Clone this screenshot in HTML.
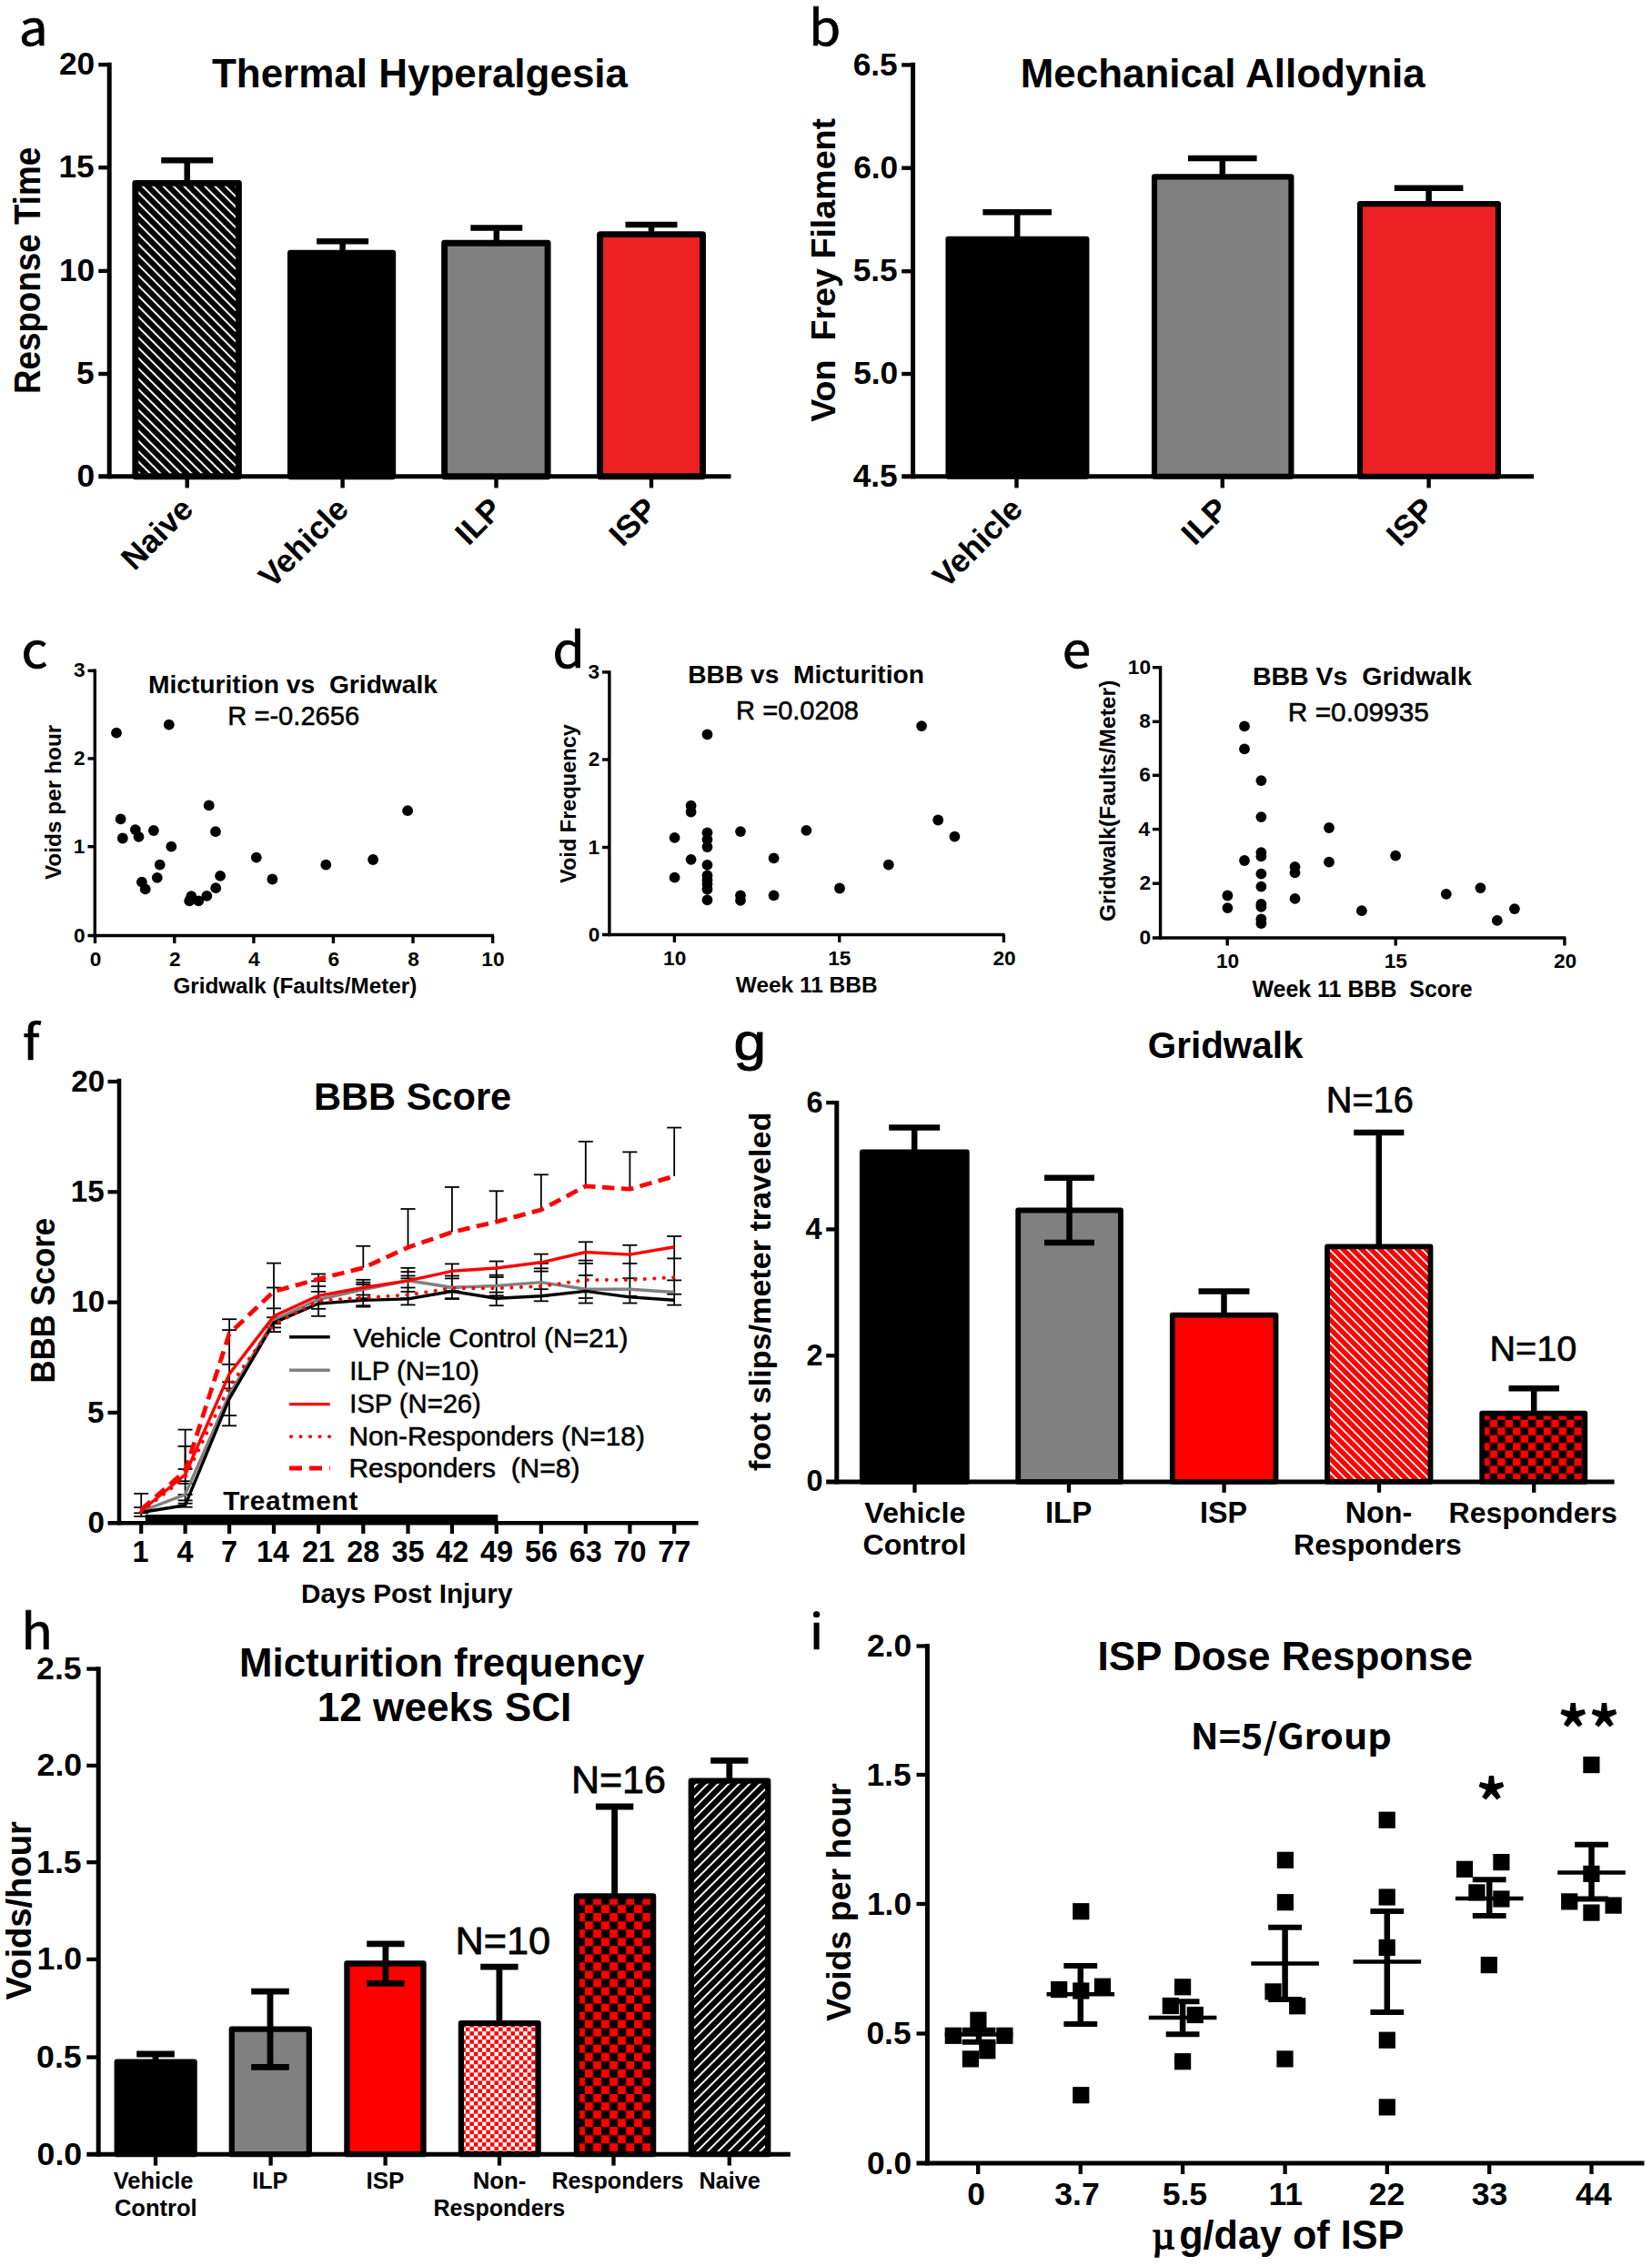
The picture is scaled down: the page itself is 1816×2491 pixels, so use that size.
<!DOCTYPE html>
<html lang="en"><head><meta charset="utf-8"><title>Figure</title>
<style>html,body{margin:0;padding:0;background:#fff}svg{display:block}text{white-space:pre;font-family:"Liberation Sans",Arial,Helvetica,sans-serif;font-weight:bold;fill:#000}line{stroke:#000}</style>
</head><body>
<svg width="1816" height="2491" viewBox="0 0 1816 2491">
<defs>
<pattern id="hA" width="8.05" height="8.05" patternUnits="userSpaceOnUse" patternTransform="rotate(45)"><rect width="8.05" height="8.05" fill="#000"/><rect y="0.73" width="8.05" height="2.0" fill="#fff"/></pattern>
<pattern id="hH" width="8.16" height="8.16" patternUnits="userSpaceOnUse" patternTransform="rotate(-45)"><rect width="8.16" height="8.16" fill="#000"/><rect y="1.79" width="8.16" height="1.95" fill="#fff"/></pattern>
<pattern id="hG" width="7.2" height="7.2" patternUnits="userSpaceOnUse" patternTransform="rotate(45)"><rect width="7.2" height="7.2" fill="#f00"/><rect y="1.8" width="7.2" height="1.75" fill="#fff"/></pattern>
<pattern id="ckG" x="1629.3" y="1543.9" width="16.86" height="16.86" patternUnits="userSpaceOnUse"><rect width="16.86" height="16.86" fill="#f00"/><rect width="8.43" height="8.43" fill="#000"/><rect x="8.43" y="8.43" width="8.43" height="8.43" fill="#000"/></pattern>
<pattern id="ckH" x="624.8" y="2085" width="18.08" height="18.08" patternUnits="userSpaceOnUse"><rect width="18.08" height="18.08" fill="#f00"/><rect width="9.04" height="9.04" fill="#000"/><rect x="9.04" y="9.04" width="9.04" height="9.04" fill="#000"/></pattern>
<pattern id="ckS" x="502.8" y="2219.6" width="9.04" height="9.04" patternUnits="userSpaceOnUse"><rect width="9.04" height="9.04" fill="#fff"/><rect width="4.52" height="4.52" fill="#f00"/><rect x="4.52" y="4.52" width="4.52" height="4.52" fill="#f00"/></pattern>
</defs>
<text x="20.8" y="50.3" font-size="53.5" textLength="31.9" lengthAdjust="spacingAndGlyphs" style="font-weight:400;font-family:'Noto Sans CJK SC','Noto Sans CJK JP','DejaVu Sans',sans-serif;" stroke="#000" stroke-width="0.7" xml:space="preserve">a</text>
<text x="889.3" y="50.3" font-size="53.5" textLength="35.0" lengthAdjust="spacingAndGlyphs" style="font-weight:400;font-family:'Noto Sans CJK SC','Noto Sans CJK JP','DejaVu Sans',sans-serif;" stroke="#000" stroke-width="0.7" xml:space="preserve">b</text>
<text x="23.6" y="734.2" font-size="53.5" textLength="28.9" lengthAdjust="spacingAndGlyphs" style="font-weight:400;font-family:'Noto Sans CJK SC','Noto Sans CJK JP','DejaVu Sans',sans-serif;" stroke="#000" stroke-width="0.7" xml:space="preserve">c</text>
<text x="607.5" y="734.2" font-size="53.5" textLength="35.2" lengthAdjust="spacingAndGlyphs" style="font-weight:400;font-family:'Noto Sans CJK SC','Noto Sans CJK JP','DejaVu Sans',sans-serif;" stroke="#000" stroke-width="0.7" xml:space="preserve">d</text>
<text x="1167.8" y="734.2" font-size="53.5" textLength="31.4" lengthAdjust="spacingAndGlyphs" style="font-weight:400;font-family:'Noto Sans CJK SC','Noto Sans CJK JP','DejaVu Sans',sans-serif;" stroke="#000" stroke-width="0.7" xml:space="preserve">e</text>
<text x="24.9" y="1165.4" font-size="53.5" textLength="18.4" lengthAdjust="spacingAndGlyphs" style="font-weight:400;font-family:'Noto Sans CJK SC','Noto Sans CJK JP','DejaVu Sans',sans-serif;" stroke="#000" stroke-width="0.7" xml:space="preserve">f</text>
<text x="806.4" y="1165.0" font-size="58" textLength="35.6" lengthAdjust="spacingAndGlyphs" style="font-weight:normal;" stroke="#000" stroke-width="1.04" xml:space="preserve">g</text>
<text x="23.5" y="1813.0" font-size="53.5" textLength="34.4" lengthAdjust="spacingAndGlyphs" style="font-weight:400;font-family:'Noto Sans CJK SC','Noto Sans CJK JP','DejaVu Sans',sans-serif;" stroke="#000" stroke-width="0.7" xml:space="preserve">h</text>
<text x="889.7" y="1812.5" font-size="53.5" textLength="15.6" lengthAdjust="spacingAndGlyphs" style="font-weight:400;font-family:'Noto Sans CJK SC','Noto Sans CJK JP','DejaVu Sans',sans-serif;" stroke="#000" stroke-width="0.7" xml:space="preserve">i</text>
<line x1="120.2" y1="68.8" x2="120.2" y2="526.2" stroke-width="5"/>
<line x1="108.3" y1="523.7" x2="803.5" y2="523.7" stroke-width="5"/>
<line x1="108.3" y1="71.1" x2="120.2" y2="71.1" stroke-width="4.4"/>
<line x1="108.3" y1="184.2" x2="120.2" y2="184.2" stroke-width="4.4"/>
<line x1="108.3" y1="297.9" x2="120.2" y2="297.9" stroke-width="4.4"/>
<line x1="108.3" y1="411.0" x2="120.2" y2="411.0" stroke-width="4.4"/>
<text x="64.9" y="82.3" font-size="35.3" xml:space="preserve">20</text>
<text x="64.4" y="195.4" font-size="35.3" xml:space="preserve">15</text>
<text x="64.9" y="309.1" font-size="35.3" xml:space="preserve">10</text>
<text x="84.0" y="422.2" font-size="35.3" xml:space="preserve">5</text>
<text x="84.5" y="534.9" font-size="35.3" xml:space="preserve">0</text>
<rect x="148.8" y="201.4" width="113.6" height="322.3" fill="url(#hA)" stroke="#000" stroke-width="6.9" stroke-linejoin="round"/>
<rect x="319.4" y="278.2" width="112.3" height="245.5" fill="#000" stroke="#000" stroke-width="6.9" stroke-linejoin="round"/>
<rect x="488.6" y="267.2" width="113.5" height="256.5" fill="#808080" stroke="#000" stroke-width="6.9" stroke-linejoin="round"/>
<rect x="659.6" y="257.6" width="112.9" height="266.1" fill="#ed2024" stroke="#000" stroke-width="6.9" stroke-linejoin="round"/>
<line x1="205.7" y1="176.2" x2="205.7" y2="200.0" stroke-width="6.5"/>
<line x1="177.2" y1="176.2" x2="234.2" y2="176.2" stroke-width="6.5"/>
<line x1="376.6" y1="265.2" x2="376.6" y2="277.0" stroke-width="6.5"/>
<line x1="348.1" y1="265.2" x2="405.1" y2="265.2" stroke-width="6.5"/>
<line x1="545.8" y1="250.5" x2="545.8" y2="266.0" stroke-width="6.5"/>
<line x1="517.3" y1="250.5" x2="574.3" y2="250.5" stroke-width="6.5"/>
<line x1="716.0" y1="247.0" x2="716.0" y2="256.0" stroke-width="6.5"/>
<line x1="687.5" y1="247.0" x2="744.5" y2="247.0" stroke-width="6.5"/>
<line x1="205.7" y1="523.7" x2="205.7" y2="536.4" stroke-width="4.4"/>
<text x="147.7" y="628.4" font-size="35.3" transform="rotate(-45 147.7 628.4)" xml:space="preserve">Naive</text>
<line x1="376.6" y1="523.7" x2="376.6" y2="536.4" stroke-width="4.4"/>
<text x="299.1" y="647.9" font-size="35.3" transform="rotate(-45 299.1 647.9)" xml:space="preserve">Vehicle</text>
<line x1="545.5" y1="523.7" x2="545.5" y2="536.4" stroke-width="4.4"/>
<text x="515.0" y="600.9" font-size="35.3" transform="rotate(-45 515.0 600.9)" xml:space="preserve">ILP</text>
<line x1="716.0" y1="523.7" x2="716.0" y2="536.4" stroke-width="4.4"/>
<text x="684.2" y="602.2" font-size="35.3" transform="rotate(-45 684.2 602.2)" xml:space="preserve">ISP</text>
<text x="232.9" y="95.6" font-size="43.99" xml:space="preserve">Thermal Hyperalgesia</text>
<text x="44.1" y="433.1" font-size="40" transform="rotate(-90 44.1 433.1)" textLength="271.3" lengthAdjust="spacingAndGlyphs" xml:space="preserve">Response Time</text>
<line x1="1003.6" y1="68.8" x2="1003.6" y2="526.2" stroke-width="5"/>
<line x1="991.2" y1="523.7" x2="1686.0" y2="523.7" stroke-width="5"/>
<line x1="991.2" y1="71.4" x2="1003.6" y2="71.4" stroke-width="4.4"/>
<line x1="991.2" y1="184.7" x2="1003.6" y2="184.7" stroke-width="4.4"/>
<line x1="991.2" y1="298.2" x2="1003.6" y2="298.2" stroke-width="4.4"/>
<line x1="991.2" y1="411.0" x2="1003.6" y2="411.0" stroke-width="4.4"/>
<text x="937.7" y="82.6" font-size="35.3" xml:space="preserve">6.5</text>
<text x="938.2" y="195.9" font-size="35.3" xml:space="preserve">6.0</text>
<text x="937.7" y="309.4" font-size="35.3" xml:space="preserve">5.5</text>
<text x="938.2" y="422.2" font-size="35.3" xml:space="preserve">5.0</text>
<text x="937.7" y="534.9" font-size="35.3" xml:space="preserve">4.5</text>
<rect x="1042.5" y="262.8" width="151.9" height="261.0" fill="#000" stroke="#000" stroke-width="6.1" stroke-linejoin="round"/>
<rect x="1269.0" y="194.4" width="150.4" height="329.4" fill="#808080" stroke="#000" stroke-width="6.1" stroke-linejoin="round"/>
<rect x="1495.0" y="224.1" width="151.9" height="299.7" fill="#ed2024" stroke="#000" stroke-width="6.1" stroke-linejoin="round"/>
<line x1="1118.2" y1="233.2" x2="1118.2" y2="262.0" stroke-width="6.5"/>
<line x1="1080.4" y1="233.2" x2="1156.0" y2="233.2" stroke-width="6.5"/>
<line x1="1343.8" y1="174.0" x2="1343.8" y2="194.0" stroke-width="6.5"/>
<line x1="1306.0" y1="174.0" x2="1381.6" y2="174.0" stroke-width="6.5"/>
<line x1="1570.6" y1="206.8" x2="1570.6" y2="225.0" stroke-width="6.5"/>
<line x1="1532.8" y1="206.8" x2="1608.4" y2="206.8" stroke-width="6.5"/>
<line x1="1117.5" y1="523.7" x2="1117.5" y2="536.4" stroke-width="4.4"/>
<text x="1040.0" y="647.9" font-size="35.3" transform="rotate(-45 1040.0 647.9)" xml:space="preserve">Vehicle</text>
<line x1="1343.8" y1="523.7" x2="1343.8" y2="536.4" stroke-width="4.4"/>
<text x="1313.3" y="600.9" font-size="35.3" transform="rotate(-45 1313.3 600.9)" xml:space="preserve">ILP</text>
<line x1="1570.6" y1="523.7" x2="1570.6" y2="536.4" stroke-width="4.4"/>
<text x="1538.8" y="602.2" font-size="35.3" transform="rotate(-45 1538.8 602.2)" xml:space="preserve">ISP</text>
<text x="1121.8" y="96.0" font-size="43.92" xml:space="preserve">Mechanical Allodynia</text>
<text x="918.0" y="463.7" font-size="37.64" transform="rotate(-90 918.0 463.7)" xml:space="preserve">Von  Frey Filament</text>
<line x1="104.3" y1="735.6" x2="104.3" y2="1030.2" stroke-width="3.4"/>
<line x1="96.5" y1="1028.5" x2="543.0" y2="1028.5" stroke-width="3.4"/>
<line x1="96.5" y1="737.3" x2="104.3" y2="737.3" stroke-width="3.4"/>
<line x1="96.5" y1="833.9" x2="104.3" y2="833.9" stroke-width="3.4"/>
<line x1="96.5" y1="930.7" x2="104.3" y2="930.7" stroke-width="3.4"/>
<text x="81.0" y="744.4" font-size="22.7" xml:space="preserve">3</text>
<text x="81.1" y="841.0" font-size="22.7" xml:space="preserve">2</text>
<text x="80.8" y="937.8" font-size="22.7" xml:space="preserve">1</text>
<text x="81.1" y="1035.6" font-size="22.7" xml:space="preserve">0</text>
<line x1="104.5" y1="1028.5" x2="104.5" y2="1037.0" stroke-width="3.4"/>
<text x="98.7" y="1061.6" font-size="22.7" xml:space="preserve">0</text>
<line x1="191.8" y1="1028.5" x2="191.8" y2="1037.0" stroke-width="3.4"/>
<text x="186.1" y="1061.6" font-size="22.7" xml:space="preserve">2</text>
<line x1="278.9" y1="1028.5" x2="278.9" y2="1037.0" stroke-width="3.4"/>
<text x="273.0" y="1061.6" font-size="22.7" xml:space="preserve">4</text>
<line x1="366.4" y1="1028.5" x2="366.4" y2="1037.0" stroke-width="3.4"/>
<text x="360.6" y="1061.6" font-size="22.7" xml:space="preserve">6</text>
<line x1="454.0" y1="1028.5" x2="454.0" y2="1037.0" stroke-width="3.4"/>
<text x="448.2" y="1061.6" font-size="22.7" xml:space="preserve">8</text>
<line x1="541.6" y1="1028.5" x2="541.6" y2="1037.0" stroke-width="3.4"/>
<text x="529.3" y="1061.6" font-size="22.7" xml:space="preserve">10</text>
<circle cx="128.0" cy="805.7" r="5.9"/>
<circle cx="185.8" cy="796.7" r="5.9"/>
<circle cx="132.6" cy="900.4" r="5.9"/>
<circle cx="134.8" cy="921.5" r="5.9"/>
<circle cx="148.8" cy="912.1" r="5.9"/>
<circle cx="152.5" cy="919.8" r="5.9"/>
<circle cx="168.9" cy="913.0" r="5.9"/>
<circle cx="188.3" cy="930.7" r="5.9"/>
<circle cx="229.7" cy="885.4" r="5.9"/>
<circle cx="237.0" cy="914.2" r="5.9"/>
<circle cx="448.1" cy="891.2" r="5.9"/>
<circle cx="175.7" cy="950.6" r="5.9"/>
<circle cx="172.8" cy="964.8" r="5.9"/>
<circle cx="155.9" cy="969.7" r="5.9"/>
<circle cx="159.7" cy="977.4" r="5.9"/>
<circle cx="242.1" cy="962.9" r="5.9"/>
<circle cx="237.2" cy="976.2" r="5.9"/>
<circle cx="227.3" cy="984.9" r="5.9"/>
<circle cx="218.3" cy="990.3" r="5.9"/>
<circle cx="210.3" cy="985.2" r="5.9"/>
<circle cx="208.2" cy="990.3" r="5.9"/>
<circle cx="281.8" cy="942.6" r="5.9"/>
<circle cx="299.4" cy="966.5" r="5.9"/>
<circle cx="358.3" cy="950.6" r="5.9"/>
<circle cx="410.1" cy="945.0" r="5.9"/>
<text x="162.9" y="762.4" font-size="28.21" xml:space="preserve">Micturition vs  Gridwalk</text>
<text x="250.3" y="797.1" font-size="29.12" style="font-weight:normal;" stroke="#000" stroke-width="0.52" xml:space="preserve">R =-0.2656</text>
<text x="190.4" y="1092.0" font-size="24.22" xml:space="preserve">Gridwalk (Faults/Meter)</text>
<text x="66.8" y="967.1" font-size="24.41" transform="rotate(-90 66.8 967.1)" xml:space="preserve">Voids per hour</text>
<line x1="669.9" y1="737.2" x2="669.9" y2="1029.2" stroke-width="3.4"/>
<line x1="662.0" y1="1027.5" x2="1104.5" y2="1027.5" stroke-width="3.4"/>
<line x1="662.0" y1="738.9" x2="669.9" y2="738.9" stroke-width="3.4"/>
<line x1="662.0" y1="835.0" x2="669.9" y2="835.0" stroke-width="3.4"/>
<line x1="662.0" y1="931.5" x2="669.9" y2="931.5" stroke-width="3.4"/>
<text x="646.6" y="746.0" font-size="22.7" xml:space="preserve">3</text>
<text x="646.7" y="842.1" font-size="22.7" xml:space="preserve">2</text>
<text x="646.4" y="938.6" font-size="22.7" xml:space="preserve">1</text>
<text x="646.7" y="1034.6" font-size="22.7" xml:space="preserve">0</text>
<line x1="741.4" y1="1027.5" x2="741.4" y2="1036.0" stroke-width="3.4"/>
<text x="729.1" y="1060.6" font-size="22.7" xml:space="preserve">10</text>
<line x1="922.7" y1="1027.5" x2="922.7" y2="1036.0" stroke-width="3.4"/>
<text x="910.2" y="1060.6" font-size="22.7" xml:space="preserve">15</text>
<line x1="1103.4" y1="1027.5" x2="1103.4" y2="1036.0" stroke-width="3.4"/>
<text x="1091.4" y="1060.6" font-size="22.7" xml:space="preserve">20</text>
<circle cx="777.5" cy="807.3" r="5.9"/>
<circle cx="1013.1" cy="798.1" r="5.9"/>
<circle cx="759.6" cy="885.7" r="5.9"/>
<circle cx="759.6" cy="892.5" r="5.9"/>
<circle cx="741.6" cy="920.8" r="5.9"/>
<circle cx="777.5" cy="915.3" r="5.9"/>
<circle cx="777.5" cy="923.0" r="5.9"/>
<circle cx="777.5" cy="931.0" r="5.9"/>
<circle cx="814.0" cy="914.1" r="5.9"/>
<circle cx="886.4" cy="912.9" r="5.9"/>
<circle cx="1031.2" cy="901.5" r="5.9"/>
<circle cx="1049.4" cy="919.6" r="5.9"/>
<circle cx="759.6" cy="944.8" r="5.9"/>
<circle cx="850.6" cy="943.4" r="5.9"/>
<circle cx="976.8" cy="950.6" r="5.9"/>
<circle cx="777.5" cy="950.9" r="5.9"/>
<circle cx="741.6" cy="964.7" r="5.9"/>
<circle cx="777.5" cy="962.5" r="5.9"/>
<circle cx="777.5" cy="967.3" r="5.9"/>
<circle cx="777.5" cy="971.7" r="5.9"/>
<circle cx="777.5" cy="977.5" r="5.9"/>
<circle cx="777.5" cy="989.4" r="5.9"/>
<circle cx="814.0" cy="984.3" r="5.9"/>
<circle cx="814.0" cy="989.9" r="5.9"/>
<circle cx="850.6" cy="984.3" r="5.9"/>
<circle cx="923.0" cy="976.5" r="5.9"/>
<text x="756.3" y="750.6" font-size="28.15" xml:space="preserve">BBB vs  Micturition</text>
<text x="809.1" y="790.7" font-size="29.07" style="font-weight:normal;" stroke="#000" stroke-width="0.52" xml:space="preserve">R =0.0208</text>
<text x="808.8" y="1091.0" font-size="24.44" xml:space="preserve">Week 11 BBB</text>
<text x="633.0" y="971.0" font-size="23.55" transform="rotate(-90 633.0 971.0)" xml:space="preserve">Void Frequency</text>
<line x1="1275.6" y1="732.0" x2="1275.6" y2="1032.7" stroke-width="3.4"/>
<line x1="1266.9" y1="1031.0" x2="1721.3" y2="1031.0" stroke-width="3.4"/>
<line x1="1266.9" y1="733.7" x2="1275.6" y2="733.7" stroke-width="3.4"/>
<line x1="1266.9" y1="793.3" x2="1275.6" y2="793.3" stroke-width="3.4"/>
<line x1="1266.9" y1="852.3" x2="1275.6" y2="852.3" stroke-width="3.4"/>
<line x1="1266.9" y1="911.6" x2="1275.6" y2="911.6" stroke-width="3.4"/>
<line x1="1266.9" y1="971.2" x2="1275.6" y2="971.2" stroke-width="3.4"/>
<text x="1239.8" y="740.8" font-size="22.7" xml:space="preserve">10</text>
<text x="1252.2" y="800.4" font-size="22.7" xml:space="preserve">8</text>
<text x="1252.3" y="859.4" font-size="22.7" xml:space="preserve">6</text>
<text x="1251.6" y="918.7" font-size="22.7" xml:space="preserve">4</text>
<text x="1252.4" y="978.3" font-size="22.7" xml:space="preserve">2</text>
<text x="1252.4" y="1038.1" font-size="22.7" xml:space="preserve">0</text>
<line x1="1349.2" y1="1031.0" x2="1349.2" y2="1039.5" stroke-width="3.4"/>
<text x="1336.9" y="1064.1" font-size="22.7" xml:space="preserve">10</text>
<line x1="1534.2" y1="1031.0" x2="1534.2" y2="1039.5" stroke-width="3.4"/>
<text x="1521.7" y="1064.1" font-size="22.7" xml:space="preserve">15</text>
<line x1="1719.9" y1="1031.0" x2="1719.9" y2="1039.5" stroke-width="3.4"/>
<text x="1707.9" y="1064.1" font-size="22.7" xml:space="preserve">20</text>
<circle cx="1368.0" cy="798.3" r="5.9"/>
<circle cx="1368.0" cy="823.3" r="5.9"/>
<circle cx="1386.4" cy="858.1" r="5.9"/>
<circle cx="1386.4" cy="898.1" r="5.9"/>
<circle cx="1386.4" cy="937.1" r="5.9"/>
<circle cx="1386.4" cy="941.4" r="5.9"/>
<circle cx="1368.0" cy="946.0" r="5.9"/>
<circle cx="1386.4" cy="960.6" r="5.9"/>
<circle cx="1386.4" cy="974.6" r="5.9"/>
<circle cx="1386.4" cy="994.0" r="5.9"/>
<circle cx="1386.4" cy="996.9" r="5.9"/>
<circle cx="1386.4" cy="1010.4" r="5.9"/>
<circle cx="1386.4" cy="1015.0" r="5.9"/>
<circle cx="1349.4" cy="984.5" r="5.9"/>
<circle cx="1349.4" cy="998.1" r="5.9"/>
<circle cx="1423.5" cy="952.8" r="5.9"/>
<circle cx="1423.5" cy="959.3" r="5.9"/>
<circle cx="1423.5" cy="987.9" r="5.9"/>
<circle cx="1461.0" cy="910.0" r="5.9"/>
<circle cx="1461.0" cy="947.7" r="5.9"/>
<circle cx="1534.1" cy="940.7" r="5.9"/>
<circle cx="1496.9" cy="1001.2" r="5.9"/>
<circle cx="1589.8" cy="982.8" r="5.9"/>
<circle cx="1627.4" cy="976.1" r="5.9"/>
<circle cx="1645.8" cy="1011.9" r="5.9"/>
<circle cx="1664.9" cy="999.1" r="5.9"/>
<text x="1376.9" y="753.2" font-size="28.52" xml:space="preserve">BBB Vs  Gridwalk</text>
<text x="1415.8" y="793.3" font-size="29.84" style="font-weight:normal;" stroke="#000" stroke-width="0.54" xml:space="preserve">R =0.09935</text>
<text x="1376.5" y="1095.8" font-size="24.94" xml:space="preserve">Week 11 BBB  Score</text>
<text x="1225.7" y="1013.1" font-size="24.64" transform="rotate(-90 1225.7 1013.1)" xml:space="preserve">Gridwalk(Faults/Meter)</text>
<line x1="155.2" y1="1641.9" x2="155.2" y2="1659.5" stroke-width="1.8"/>
<line x1="147.2" y1="1641.9" x2="163.2" y2="1641.9" stroke-width="1.8"/>
<line x1="155.2" y1="1657.1" x2="155.2" y2="1667.0" stroke-width="1.8"/>
<line x1="147.2" y1="1657.1" x2="163.2" y2="1657.1" stroke-width="1.8"/>
<line x1="147.2" y1="1663.3" x2="163.2" y2="1663.3" stroke-width="1.8"/>
<line x1="147.2" y1="1667.0" x2="163.2" y2="1667.0" stroke-width="1.8"/>
<line x1="203.6" y1="1571.6" x2="203.6" y2="1617.0" stroke-width="1.8"/>
<line x1="195.6" y1="1571.6" x2="211.6" y2="1571.6" stroke-width="1.8"/>
<line x1="203.6" y1="1589.9" x2="203.6" y2="1656.7" stroke-width="1.8"/>
<line x1="195.6" y1="1589.9" x2="211.6" y2="1589.9" stroke-width="1.8"/>
<line x1="195.6" y1="1615.0" x2="211.6" y2="1615.0" stroke-width="1.8"/>
<line x1="195.6" y1="1628.2" x2="211.6" y2="1628.2" stroke-width="1.8"/>
<line x1="195.6" y1="1630.9" x2="211.6" y2="1630.9" stroke-width="1.8"/>
<line x1="195.6" y1="1643.0" x2="211.6" y2="1643.0" stroke-width="1.8"/>
<line x1="195.6" y1="1649.4" x2="211.6" y2="1649.4" stroke-width="1.8"/>
<line x1="195.6" y1="1652.7" x2="211.6" y2="1652.7" stroke-width="1.8"/>
<line x1="195.6" y1="1656.7" x2="211.6" y2="1656.7" stroke-width="1.8"/>
<line x1="252.1" y1="1450.2" x2="252.1" y2="1466.0" stroke-width="1.8"/>
<line x1="244.1" y1="1450.2" x2="260.1" y2="1450.2" stroke-width="1.8"/>
<line x1="252.1" y1="1462.1" x2="252.1" y2="1567.3" stroke-width="1.8"/>
<line x1="244.1" y1="1462.1" x2="260.1" y2="1462.1" stroke-width="1.8"/>
<line x1="244.1" y1="1499.8" x2="260.1" y2="1499.8" stroke-width="1.8"/>
<line x1="244.1" y1="1519.3" x2="260.1" y2="1519.3" stroke-width="1.8"/>
<line x1="244.1" y1="1526.3" x2="260.1" y2="1526.3" stroke-width="1.8"/>
<line x1="244.1" y1="1556.1" x2="260.1" y2="1556.1" stroke-width="1.8"/>
<line x1="244.1" y1="1567.3" x2="260.1" y2="1567.3" stroke-width="1.8"/>
<line x1="301.0" y1="1388.6" x2="301.0" y2="1419.7" stroke-width="1.8"/>
<line x1="293.0" y1="1388.6" x2="309.0" y2="1388.6" stroke-width="1.8"/>
<line x1="301.0" y1="1415.5" x2="301.0" y2="1464.1" stroke-width="1.8"/>
<line x1="293.0" y1="1415.5" x2="309.0" y2="1415.5" stroke-width="1.8"/>
<line x1="293.0" y1="1438.3" x2="309.0" y2="1438.3" stroke-width="1.8"/>
<line x1="293.0" y1="1448.2" x2="309.0" y2="1448.2" stroke-width="1.8"/>
<line x1="293.0" y1="1455.0" x2="309.0" y2="1455.0" stroke-width="1.8"/>
<line x1="293.0" y1="1459.4" x2="309.0" y2="1459.4" stroke-width="1.8"/>
<line x1="293.0" y1="1464.1" x2="309.0" y2="1464.1" stroke-width="1.8"/>
<line x1="350.1" y1="1400.5" x2="350.1" y2="1406.1" stroke-width="1.8"/>
<line x1="342.1" y1="1400.5" x2="358.1" y2="1400.5" stroke-width="1.8"/>
<line x1="350.1" y1="1408.3" x2="350.1" y2="1446.8" stroke-width="1.8"/>
<line x1="342.1" y1="1408.3" x2="358.1" y2="1408.3" stroke-width="1.8"/>
<line x1="342.1" y1="1414.0" x2="358.1" y2="1414.0" stroke-width="1.8"/>
<line x1="342.1" y1="1419.9" x2="358.1" y2="1419.9" stroke-width="1.8"/>
<line x1="342.1" y1="1427.2" x2="358.1" y2="1427.2" stroke-width="1.8"/>
<line x1="342.1" y1="1438.8" x2="358.1" y2="1438.8" stroke-width="1.8"/>
<line x1="342.1" y1="1446.8" x2="358.1" y2="1446.8" stroke-width="1.8"/>
<line x1="399.3" y1="1369.8" x2="399.3" y2="1393.8" stroke-width="1.8"/>
<line x1="391.3" y1="1369.8" x2="407.3" y2="1369.8" stroke-width="1.8"/>
<line x1="399.3" y1="1406.8" x2="399.3" y2="1436.6" stroke-width="1.8"/>
<line x1="391.3" y1="1406.8" x2="407.3" y2="1406.8" stroke-width="1.8"/>
<line x1="391.3" y1="1409.7" x2="407.3" y2="1409.7" stroke-width="1.8"/>
<line x1="391.3" y1="1412.0" x2="407.3" y2="1412.0" stroke-width="1.8"/>
<line x1="391.3" y1="1423.5" x2="407.3" y2="1423.5" stroke-width="1.8"/>
<line x1="391.3" y1="1427.2" x2="407.3" y2="1427.2" stroke-width="1.8"/>
<line x1="391.3" y1="1435.2" x2="407.3" y2="1435.2" stroke-width="1.8"/>
<line x1="391.3" y1="1436.6" x2="407.3" y2="1436.6" stroke-width="1.8"/>
<line x1="448.5" y1="1329.0" x2="448.5" y2="1371.3" stroke-width="1.8"/>
<line x1="440.5" y1="1329.0" x2="456.5" y2="1329.0" stroke-width="1.8"/>
<line x1="448.5" y1="1393.8" x2="448.5" y2="1434.4" stroke-width="1.8"/>
<line x1="440.5" y1="1393.8" x2="456.5" y2="1393.8" stroke-width="1.8"/>
<line x1="440.5" y1="1398.1" x2="456.5" y2="1398.1" stroke-width="1.8"/>
<line x1="440.5" y1="1402.5" x2="456.5" y2="1402.5" stroke-width="1.8"/>
<line x1="440.5" y1="1405.4" x2="456.5" y2="1405.4" stroke-width="1.8"/>
<line x1="440.5" y1="1415.5" x2="456.5" y2="1415.5" stroke-width="1.8"/>
<line x1="440.5" y1="1419.9" x2="456.5" y2="1419.9" stroke-width="1.8"/>
<line x1="440.5" y1="1427.2" x2="456.5" y2="1427.2" stroke-width="1.8"/>
<line x1="440.5" y1="1434.4" x2="456.5" y2="1434.4" stroke-width="1.8"/>
<line x1="496.9" y1="1305.0" x2="496.9" y2="1354.5" stroke-width="1.8"/>
<line x1="488.9" y1="1305.0" x2="504.9" y2="1305.0" stroke-width="1.8"/>
<line x1="496.9" y1="1389.4" x2="496.9" y2="1428.0" stroke-width="1.8"/>
<line x1="488.9" y1="1389.4" x2="504.9" y2="1389.4" stroke-width="1.8"/>
<line x1="488.9" y1="1402.5" x2="504.9" y2="1402.5" stroke-width="1.8"/>
<line x1="488.9" y1="1405.4" x2="504.9" y2="1405.4" stroke-width="1.8"/>
<line x1="488.9" y1="1415.5" x2="504.9" y2="1415.5" stroke-width="1.8"/>
<line x1="488.9" y1="1419.2" x2="504.9" y2="1419.2" stroke-width="1.8"/>
<line x1="488.9" y1="1427.2" x2="504.9" y2="1427.2" stroke-width="1.8"/>
<line x1="488.9" y1="1428.0" x2="504.9" y2="1428.0" stroke-width="1.8"/>
<line x1="545.7" y1="1309.3" x2="545.7" y2="1343.1" stroke-width="1.8"/>
<line x1="537.7" y1="1309.3" x2="553.7" y2="1309.3" stroke-width="1.8"/>
<line x1="545.7" y1="1386.5" x2="545.7" y2="1435.2" stroke-width="1.8"/>
<line x1="537.7" y1="1386.5" x2="553.7" y2="1386.5" stroke-width="1.8"/>
<line x1="537.7" y1="1401.7" x2="553.7" y2="1401.7" stroke-width="1.8"/>
<line x1="537.7" y1="1404.0" x2="553.7" y2="1404.0" stroke-width="1.8"/>
<line x1="537.7" y1="1420.6" x2="553.7" y2="1420.6" stroke-width="1.8"/>
<line x1="537.7" y1="1424.3" x2="553.7" y2="1424.3" stroke-width="1.8"/>
<line x1="537.7" y1="1427.2" x2="553.7" y2="1427.2" stroke-width="1.8"/>
<line x1="537.7" y1="1435.2" x2="553.7" y2="1435.2" stroke-width="1.8"/>
<line x1="594.8" y1="1291.3" x2="594.8" y2="1330.0" stroke-width="1.8"/>
<line x1="586.8" y1="1291.3" x2="602.8" y2="1291.3" stroke-width="1.8"/>
<line x1="594.8" y1="1378.6" x2="594.8" y2="1430.3" stroke-width="1.8"/>
<line x1="586.8" y1="1378.6" x2="602.8" y2="1378.6" stroke-width="1.8"/>
<line x1="586.8" y1="1388.9" x2="602.8" y2="1388.9" stroke-width="1.8"/>
<line x1="586.8" y1="1394.3" x2="602.8" y2="1394.3" stroke-width="1.8"/>
<line x1="586.8" y1="1397.6" x2="602.8" y2="1397.6" stroke-width="1.8"/>
<line x1="586.8" y1="1417.2" x2="602.8" y2="1417.2" stroke-width="1.8"/>
<line x1="586.8" y1="1424.8" x2="602.8" y2="1424.8" stroke-width="1.8"/>
<line x1="586.8" y1="1430.3" x2="602.8" y2="1430.3" stroke-width="1.8"/>
<line x1="643.8" y1="1254.9" x2="643.8" y2="1303.9" stroke-width="1.8"/>
<line x1="635.8" y1="1254.9" x2="651.8" y2="1254.9" stroke-width="1.8"/>
<line x1="643.8" y1="1365.3" x2="643.8" y2="1432.5" stroke-width="1.8"/>
<line x1="635.8" y1="1365.3" x2="651.8" y2="1365.3" stroke-width="1.8"/>
<line x1="635.8" y1="1385.6" x2="651.8" y2="1385.6" stroke-width="1.8"/>
<line x1="635.8" y1="1388.9" x2="651.8" y2="1388.9" stroke-width="1.8"/>
<line x1="635.8" y1="1402.0" x2="651.8" y2="1402.0" stroke-width="1.8"/>
<line x1="635.8" y1="1417.2" x2="651.8" y2="1417.2" stroke-width="1.8"/>
<line x1="635.8" y1="1427.0" x2="651.8" y2="1427.0" stroke-width="1.8"/>
<line x1="635.8" y1="1432.5" x2="651.8" y2="1432.5" stroke-width="1.8"/>
<line x1="692.4" y1="1266.4" x2="692.4" y2="1307.2" stroke-width="1.8"/>
<line x1="684.4" y1="1266.4" x2="700.4" y2="1266.4" stroke-width="1.8"/>
<line x1="692.4" y1="1368.8" x2="692.4" y2="1432.5" stroke-width="1.8"/>
<line x1="684.4" y1="1368.8" x2="700.4" y2="1368.8" stroke-width="1.8"/>
<line x1="684.4" y1="1388.9" x2="700.4" y2="1388.9" stroke-width="1.8"/>
<line x1="684.4" y1="1405.2" x2="700.4" y2="1405.2" stroke-width="1.8"/>
<line x1="684.4" y1="1417.2" x2="700.4" y2="1417.2" stroke-width="1.8"/>
<line x1="684.4" y1="1424.8" x2="700.4" y2="1424.8" stroke-width="1.8"/>
<line x1="684.4" y1="1432.5" x2="700.4" y2="1432.5" stroke-width="1.8"/>
<line x1="741.2" y1="1239.6" x2="741.2" y2="1293.0" stroke-width="1.8"/>
<line x1="733.2" y1="1239.6" x2="749.2" y2="1239.6" stroke-width="1.8"/>
<line x1="741.2" y1="1359.0" x2="741.2" y2="1434.6" stroke-width="1.8"/>
<line x1="733.2" y1="1359.0" x2="749.2" y2="1359.0" stroke-width="1.8"/>
<line x1="733.2" y1="1383.4" x2="749.2" y2="1383.4" stroke-width="1.8"/>
<line x1="733.2" y1="1407.4" x2="749.2" y2="1407.4" stroke-width="1.8"/>
<line x1="733.2" y1="1422.7" x2="749.2" y2="1422.7" stroke-width="1.8"/>
<line x1="733.2" y1="1434.6" x2="749.2" y2="1434.6" stroke-width="1.8"/>
<polyline points="155.2,1661.5 203.6,1642.8 252.1,1533.0 301.0,1451.0 350.1,1428.5 399.3,1417.5 448.5,1407.8 496.9,1415.3 545.7,1413.5 594.8,1409.6 643.8,1417.2 692.4,1417.2 741.2,1420.5" fill="none" stroke="#808080" stroke-width="3.4" stroke-linejoin="round"/>
<polyline points="155.2,1662.5 203.6,1654.7 252.1,1537.6 301.0,1454.1 350.1,1433.0 399.3,1429.4 448.5,1427.9 496.9,1419.5 545.7,1427.2 594.8,1424.8 643.8,1419.4 692.4,1425.9 741.2,1429.2" fill="none" stroke="#000" stroke-width="3.4" stroke-linejoin="round"/>
<polyline points="155.2,1662.0 203.6,1624.0 252.1,1524.3 301.0,1456.0 350.1,1430.0 399.3,1426.4 448.5,1423.5 496.9,1416.1 545.7,1416.2 594.8,1414.0 643.8,1407.0 692.4,1407.0 741.2,1404.1" fill="none" stroke="#f00" stroke-width="4" stroke-linejoin="round" stroke-dasharray="0.1 10.4" stroke-linecap="round"/>
<polyline points="155.2,1661.0 203.6,1621.0 252.1,1510.4 301.0,1446.9 350.1,1424.3 399.3,1415.5 448.5,1407.9 496.9,1397.3 545.7,1394.0 594.8,1387.8 643.8,1376.5 692.4,1379.1 741.2,1370.8" fill="none" stroke="#f00" stroke-width="3.4" stroke-linejoin="round"/>
<polyline points="155.2,1659.5 203.6,1617.0 252.1,1466.0 301.0,1419.7 350.1,1406.1 399.3,1393.8 448.5,1371.3 496.9,1354.5 545.7,1343.1 594.8,1330.0 643.8,1303.9 692.4,1307.2 741.2,1293.0" fill="none" stroke="#f00" stroke-width="4.8" stroke-linejoin="round" stroke-dasharray="13.5 7.5"/>
<line x1="131.0" y1="1185.8" x2="131.0" y2="1676.5" stroke-width="4.5"/>
<line x1="118.5" y1="1674.2" x2="767.6" y2="1674.2" stroke-width="4.5"/>
<line x1="118.5" y1="1189.0" x2="131.0" y2="1189.0" stroke-width="4.2"/>
<line x1="118.5" y1="1310.3" x2="131.0" y2="1310.3" stroke-width="4.2"/>
<line x1="118.5" y1="1431.6" x2="131.0" y2="1431.6" stroke-width="4.2"/>
<line x1="118.5" y1="1552.9" x2="131.0" y2="1552.9" stroke-width="4.2"/>
<text x="78.2" y="1199.7" font-size="33.2" xml:space="preserve">20</text>
<text x="77.7" y="1321.0" font-size="33.2" xml:space="preserve">15</text>
<text x="78.2" y="1442.3" font-size="33.2" xml:space="preserve">10</text>
<text x="96.1" y="1563.6" font-size="33.2" xml:space="preserve">5</text>
<text x="96.6" y="1684.9" font-size="33.2" xml:space="preserve">0</text>
<line x1="155.2" y1="1674.2" x2="155.2" y2="1686.0" stroke-width="4.2"/>
<text x="145.6" y="1717.3" font-size="32.4" xml:space="preserve">1</text>
<line x1="203.6" y1="1674.2" x2="203.6" y2="1686.0" stroke-width="4.2"/>
<text x="194.4" y="1717.3" font-size="32.4" xml:space="preserve">4</text>
<line x1="252.1" y1="1674.2" x2="252.1" y2="1686.0" stroke-width="4.2"/>
<text x="243.1" y="1717.3" font-size="32.4" xml:space="preserve">7</text>
<line x1="301.0" y1="1674.2" x2="301.0" y2="1686.0" stroke-width="4.2"/>
<text x="282.1" y="1717.3" font-size="32.4" xml:space="preserve">14</text>
<line x1="350.1" y1="1674.2" x2="350.1" y2="1686.0" stroke-width="4.2"/>
<text x="332.0" y="1717.3" font-size="32.4" xml:space="preserve">21</text>
<line x1="399.3" y1="1674.2" x2="399.3" y2="1686.0" stroke-width="4.2"/>
<text x="381.2" y="1717.3" font-size="32.4" xml:space="preserve">28</text>
<line x1="448.5" y1="1674.2" x2="448.5" y2="1686.0" stroke-width="4.2"/>
<text x="430.5" y="1717.3" font-size="32.4" xml:space="preserve">35</text>
<line x1="496.9" y1="1674.2" x2="496.9" y2="1686.0" stroke-width="4.2"/>
<text x="479.3" y="1717.3" font-size="32.4" xml:space="preserve">42</text>
<line x1="545.7" y1="1674.2" x2="545.7" y2="1686.0" stroke-width="4.2"/>
<text x="528.0" y="1717.3" font-size="32.4" xml:space="preserve">49</text>
<line x1="594.8" y1="1674.2" x2="594.8" y2="1686.0" stroke-width="4.2"/>
<text x="576.9" y="1717.3" font-size="32.4" xml:space="preserve">56</text>
<line x1="643.8" y1="1674.2" x2="643.8" y2="1686.0" stroke-width="4.2"/>
<text x="625.8" y="1717.3" font-size="32.4" xml:space="preserve">63</text>
<line x1="692.4" y1="1674.2" x2="692.4" y2="1686.0" stroke-width="4.2"/>
<text x="674.4" y="1717.3" font-size="32.4" xml:space="preserve">70</text>
<line x1="741.2" y1="1674.2" x2="741.2" y2="1686.0" stroke-width="4.2"/>
<text x="723.2" y="1717.3" font-size="32.4" xml:space="preserve">77</text>
<rect x="159.8" y="1665.0" width="387.5" height="7.2" fill="#000" stroke="none"/>
<text x="245.2" y="1660.3" font-size="29.7" letter-spacing="0.78" xml:space="preserve">Treatment</text>
<text x="345.0" y="1219.6" font-size="41.58" xml:space="preserve">BBB Score</text>
<text x="59.6" y="1520.4" font-size="36.7" transform="rotate(-90 59.6 1520.4)" textLength="181.6" lengthAdjust="spacingAndGlyphs" xml:space="preserve">BBB Score</text>
<text x="331.0" y="1761.8" font-size="29.66" xml:space="preserve">Days Post Injury</text>
<line x1="318.0" y1="1469.8" x2="362.7" y2="1469.8" stroke-width="3.4"/>
<line x1="318.0" y1="1506.3" x2="362.7" y2="1506.3" stroke-width="3.4" style="stroke:#808080"/>
<line x1="318.0" y1="1543.6" x2="362.7" y2="1543.6" stroke-width="3.4" style="stroke:#f00"/>
<line x1="320.0" y1="1579.2" x2="362.7" y2="1579.2" stroke-width="4" style="stroke:#f00" stroke-dasharray="0.1 10.4" stroke-linecap="round"/>
<line x1="318.0" y1="1614.0" x2="362.7" y2="1614.0" stroke-width="4.8" style="stroke:#f00" stroke-dasharray="14 8"/>
<text x="388.5" y="1481.0" font-size="29.93" style="font-weight:normal;" stroke="#000" stroke-width="0.54" xml:space="preserve">Vehicle Control (N=21)</text>
<text x="384.2" y="1516.8" font-size="29.45" style="font-weight:normal;" stroke="#000" stroke-width="0.53" xml:space="preserve">ILP (N=10)</text>
<text x="384.3" y="1553.0" font-size="29.16" style="font-weight:normal;" stroke="#000" stroke-width="0.52" xml:space="preserve">ISP (N=26)</text>
<text x="383.4" y="1589.2" font-size="29.81" style="font-weight:normal;" stroke="#000" stroke-width="0.54" xml:space="preserve">Non-Responders (N=18)</text>
<text x="383.4" y="1623.6" font-size="29.97" style="font-weight:normal;" stroke="#000" stroke-width="0.54" xml:space="preserve">Responders  (N=8)</text>
<line x1="919.8" y1="1210.0" x2="919.8" y2="1631.4" stroke-width="5"/>
<line x1="908.2" y1="1628.9" x2="1774.6" y2="1628.9" stroke-width="5"/>
<line x1="908.2" y1="1212.1" x2="919.8" y2="1212.1" stroke-width="4.3"/>
<line x1="908.2" y1="1351.4" x2="919.8" y2="1351.4" stroke-width="4.3"/>
<line x1="908.2" y1="1490.3" x2="919.8" y2="1490.3" stroke-width="4.3"/>
<text x="886.4" y="1222.6" font-size="32.5" xml:space="preserve">6</text>
<text x="885.4" y="1361.9" font-size="32.5" xml:space="preserve">4</text>
<text x="886.6" y="1500.8" font-size="32.5" xml:space="preserve">2</text>
<text x="886.6" y="1639.4" font-size="32.5" xml:space="preserve">0</text>
<rect x="947.8" y="1266.4" width="115.0" height="362.5" fill="#000" stroke="#000" stroke-width="5.8" stroke-linejoin="round"/>
<rect x="1119.2" y="1330.5" width="112.8" height="298.4" fill="#808080" stroke="#000" stroke-width="5.8" stroke-linejoin="round"/>
<rect x="1288.8" y="1445.7" width="113.7" height="183.2" fill="#f00" stroke="#000" stroke-width="5.8" stroke-linejoin="round"/>
<rect x="1459.0" y="1370.3" width="113.5" height="258.6" fill="url(#hG)" stroke="#000" stroke-width="5.8" stroke-linejoin="round"/>
<rect x="1629.2" y="1553.6" width="113.1" height="75.3" fill="url(#ckG)" stroke="#000" stroke-width="5.8" stroke-linejoin="round"/>
<line x1="1005.2" y1="1239.6" x2="1005.2" y2="1266.0" stroke-width="6.5"/>
<line x1="977.2" y1="1239.6" x2="1033.2" y2="1239.6" stroke-width="6.5"/>
<line x1="1175.5" y1="1294.7" x2="1175.5" y2="1366.0" stroke-width="6.5"/>
<line x1="1148.0" y1="1294.7" x2="1203.0" y2="1294.7" stroke-width="6.5"/>
<line x1="1148.0" y1="1366.0" x2="1203.0" y2="1366.0" stroke-width="6.5"/>
<line x1="1345.5" y1="1419.4" x2="1345.5" y2="1445.0" stroke-width="6.5"/>
<line x1="1317.5" y1="1419.4" x2="1373.5" y2="1419.4" stroke-width="6.5"/>
<line x1="1515.8" y1="1245.0" x2="1515.8" y2="1370.0" stroke-width="6.5"/>
<line x1="1488.2" y1="1245.0" x2="1543.4" y2="1245.0" stroke-width="6.5"/>
<line x1="1686.2" y1="1526.3" x2="1686.2" y2="1553.0" stroke-width="6.5"/>
<line x1="1658.5" y1="1526.3" x2="1714.0" y2="1526.3" stroke-width="6.5"/>
<line x1="1005.5" y1="1628.9" x2="1005.5" y2="1640.8" stroke-width="4.3"/>
<line x1="1175.0" y1="1628.9" x2="1175.0" y2="1640.8" stroke-width="4.3"/>
<line x1="1345.6" y1="1628.9" x2="1345.6" y2="1640.8" stroke-width="4.3"/>
<line x1="1516.0" y1="1628.9" x2="1516.0" y2="1640.8" stroke-width="4.3"/>
<line x1="1686.2" y1="1628.9" x2="1686.2" y2="1640.8" stroke-width="4.3"/>
<text x="950.2" y="1673.7" font-size="32.28" xml:space="preserve">Vehicle</text>
<text x="948.5" y="1709.4" font-size="32.08" xml:space="preserve">Control</text>
<text x="1148.9" y="1673.7" font-size="33.15" xml:space="preserve">ILP</text>
<text x="1319.0" y="1673.7" font-size="32.3" xml:space="preserve">ISP</text>
<text x="1478.8" y="1673.7" font-size="32.3" xml:space="preserve">Non-</text>
<text x="1422.1" y="1709.4" font-size="31.98" xml:space="preserve">Responders</text>
<text x="1592.5" y="1673.7" font-size="32.07" xml:space="preserve">Responders</text>
<text x="1261.8" y="1163.3" font-size="40.41" xml:space="preserve">Gridwalk</text>
<text x="1457.7" y="1222.9" font-size="39.78" style="font-weight:normal;" stroke="#000" stroke-width="0.72" xml:space="preserve">N=16</text>
<text x="1637.5" y="1496.1" font-size="39.61" style="font-weight:normal;" stroke="#000" stroke-width="0.71" xml:space="preserve">N=10</text>
<text x="846.9" y="1617.1" font-size="34.13" transform="rotate(-90 846.9 1617.1)" xml:space="preserve">foot slips/meter traveled</text>
<line x1="108.2" y1="1832.2" x2="108.2" y2="2370.7" stroke-width="5"/>
<line x1="95.3" y1="2368.2" x2="868.8" y2="2368.2" stroke-width="5"/>
<line x1="95.3" y1="1834.6" x2="108.2" y2="1834.6" stroke-width="4.3"/>
<line x1="95.3" y1="1940.9" x2="108.2" y2="1940.9" stroke-width="4.3"/>
<line x1="95.3" y1="2047.2" x2="108.2" y2="2047.2" stroke-width="4.3"/>
<line x1="95.3" y1="2153.9" x2="108.2" y2="2153.9" stroke-width="4.3"/>
<line x1="95.3" y1="2261.5" x2="108.2" y2="2261.5" stroke-width="4.3"/>
<text x="40.1" y="1845.9" font-size="35.7" xml:space="preserve">2.5</text>
<text x="40.6" y="1952.2" font-size="35.7" xml:space="preserve">2.0</text>
<text x="40.1" y="2058.5" font-size="35.7" xml:space="preserve">1.5</text>
<text x="40.6" y="2165.2" font-size="35.7" xml:space="preserve">1.0</text>
<text x="40.1" y="2272.8" font-size="35.7" xml:space="preserve">0.5</text>
<text x="40.6" y="2379.5" font-size="35.7" xml:space="preserve">0.0</text>
<rect x="128.7" y="2266.6" width="84.9" height="101.6" fill="#000" stroke="#000" stroke-width="6.3" stroke-linejoin="round"/>
<rect x="254.8" y="2230.7" width="85.0" height="137.5" fill="#808080" stroke="#000" stroke-width="6.3" stroke-linejoin="round"/>
<rect x="381.4" y="2158.5" width="84.1" height="209.7" fill="#f00" stroke="#000" stroke-width="6.3" stroke-linejoin="round"/>
<rect x="506.9" y="2224.2" width="84.7" height="144.0" fill="url(#ckS)" stroke="#000" stroke-width="6.3" stroke-linejoin="round"/>
<rect x="633.9" y="2084.3" width="84.2" height="283.9" fill="url(#ckH)" stroke="#000" stroke-width="6.3" stroke-linejoin="round"/>
<rect x="759.8" y="1957.7" width="84.4" height="410.5" fill="url(#hH)" stroke="#000" stroke-width="6.3" stroke-linejoin="round"/>
<line x1="171.0" y1="2258.0" x2="171.0" y2="2265.0" stroke-width="6.8"/>
<line x1="150.2" y1="2258.0" x2="191.8" y2="2258.0" stroke-width="6.8"/>
<line x1="297.0" y1="2189.2" x2="297.0" y2="2272.3" stroke-width="6.8"/>
<line x1="276.2" y1="2189.2" x2="317.8" y2="2189.2" stroke-width="6.8"/>
<line x1="276.2" y1="2272.3" x2="317.8" y2="2272.3" stroke-width="6.8"/>
<line x1="423.9" y1="2136.8" x2="423.9" y2="2180.4" stroke-width="6.8"/>
<line x1="403.2" y1="2136.8" x2="444.5" y2="2136.8" stroke-width="6.8"/>
<line x1="403.2" y1="2180.4" x2="444.5" y2="2180.4" stroke-width="6.8"/>
<line x1="548.9" y1="2162.2" x2="548.9" y2="2223.0" stroke-width="6.8"/>
<line x1="528.2" y1="2162.2" x2="569.6" y2="2162.2" stroke-width="6.8"/>
<line x1="675.6" y1="1986.0" x2="675.6" y2="2083.0" stroke-width="6.8"/>
<line x1="654.9" y1="1986.0" x2="696.3" y2="1986.0" stroke-width="6.8"/>
<line x1="801.8" y1="1935.4" x2="801.8" y2="1956.0" stroke-width="6.8"/>
<line x1="781.2" y1="1935.4" x2="822.4" y2="1935.4" stroke-width="6.8"/>
<line x1="171.0" y1="2368.2" x2="171.0" y2="2380.6" stroke-width="4.3"/>
<line x1="297.6" y1="2368.2" x2="297.6" y2="2380.6" stroke-width="4.3"/>
<line x1="423.6" y1="2368.2" x2="423.6" y2="2380.6" stroke-width="4.3"/>
<line x1="549.0" y1="2368.2" x2="549.0" y2="2380.6" stroke-width="4.3"/>
<line x1="674.5" y1="2368.2" x2="674.5" y2="2380.6" stroke-width="4.3"/>
<line x1="801.8" y1="2368.2" x2="801.8" y2="2380.6" stroke-width="4.3"/>
<text x="124.8" y="2406.3" font-size="25.46" xml:space="preserve">Vehicle</text>
<text x="125.9" y="2435.5" font-size="25.52" xml:space="preserve">Control</text>
<text x="277.3" y="2406.3" font-size="25.14" xml:space="preserve">ILP</text>
<text x="402.5" y="2406.3" font-size="26.07" xml:space="preserve">ISP</text>
<text x="519.7" y="2406.3" font-size="25.79" xml:space="preserve">Non-</text>
<text x="476.5" y="2435.5" font-size="25.06" xml:space="preserve">Responders</text>
<text x="606.4" y="2406.3" font-size="25.11" xml:space="preserve">Responders</text>
<text x="768.5" y="2406.3" font-size="25.26" xml:space="preserve">Naive</text>
<text x="263.1" y="1842.8" font-size="43.81" xml:space="preserve">Micturition frequency</text>
<text x="348.8" y="1892.2" font-size="44.12" xml:space="preserve">12 weeks SCI</text>
<text x="627.9" y="1971.4" font-size="43.05" style="font-weight:normal;" stroke="#000" stroke-width="0.77" xml:space="preserve">N=16</text>
<text x="500.5" y="2147.9" font-size="43.26" style="font-weight:normal;" stroke="#000" stroke-width="0.78" xml:space="preserve">N=10</text>
<text x="33.8" y="2198.5" font-size="38.15" transform="rotate(-90 33.8 2198.5)" xml:space="preserve">Voids/hour</text>
<line x1="1019.4" y1="1807.0" x2="1019.4" y2="2380.4" stroke-width="5"/>
<line x1="1007.5" y1="2377.9" x2="1807.5" y2="2377.9" stroke-width="5"/>
<line x1="1007.5" y1="1809.5" x2="1019.4" y2="1809.5" stroke-width="4.3"/>
<line x1="1007.5" y1="1951.0" x2="1019.4" y2="1951.0" stroke-width="4.3"/>
<line x1="1007.5" y1="2093.0" x2="1019.4" y2="2093.0" stroke-width="4.3"/>
<line x1="1007.5" y1="2235.5" x2="1019.4" y2="2235.5" stroke-width="4.3"/>
<text x="952.9" y="1821.1" font-size="35.4" xml:space="preserve">2.0</text>
<text x="952.4" y="1962.6" font-size="35.4" xml:space="preserve">1.5</text>
<text x="952.9" y="2104.6" font-size="35.4" xml:space="preserve">1.0</text>
<text x="952.4" y="2247.1" font-size="35.4" xml:space="preserve">0.5</text>
<text x="952.9" y="2389.5" font-size="35.4" xml:space="preserve">0.0</text>
<line x1="1075.2" y1="2377.9" x2="1075.2" y2="2390.0" stroke-width="4.3"/>
<text x="1063.2" y="2424.4" font-size="35.6" xml:space="preserve">0</text>
<line x1="1187.8" y1="2377.9" x2="1187.8" y2="2390.0" stroke-width="4.3"/>
<text x="1159.3" y="2424.4" font-size="35.6" xml:space="preserve">3.7</text>
<line x1="1300.1" y1="2377.9" x2="1300.1" y2="2390.0" stroke-width="4.3"/>
<text x="1277.7" y="2424.4" font-size="35.6" xml:space="preserve">5.5</text>
<line x1="1412.6" y1="2377.9" x2="1412.6" y2="2390.0" stroke-width="4.3"/>
<text x="1394.4" y="2424.4" font-size="35.6" xml:space="preserve">11</text>
<line x1="1524.8" y1="2377.9" x2="1524.8" y2="2390.0" stroke-width="4.3"/>
<text x="1504.7" y="2424.4" font-size="35.6" xml:space="preserve">22</text>
<line x1="1637.2" y1="2377.9" x2="1637.2" y2="2390.0" stroke-width="4.3"/>
<text x="1617.7" y="2424.4" font-size="35.6" xml:space="preserve">33</text>
<line x1="1749.5" y1="2377.9" x2="1749.5" y2="2390.0" stroke-width="4.3"/>
<text x="1732.1" y="2424.4" font-size="35.6" xml:space="preserve">44</text>
<rect x="1066.3" y="2211.6" width="18.2" height="18.2" fill="#000" stroke="none"/>
<rect x="1038.7" y="2228.7" width="18.2" height="18.2" fill="#000" stroke="none"/>
<rect x="1095.3" y="2228.7" width="18.2" height="18.2" fill="#000" stroke="none"/>
<rect x="1076.2" y="2245.2" width="18.2" height="18.2" fill="#000" stroke="none"/>
<rect x="1057.8" y="2254.3" width="18.2" height="18.2" fill="#000" stroke="none"/>
<rect x="1179.2" y="2092.1" width="18.2" height="18.2" fill="#000" stroke="none"/>
<rect x="1155.1" y="2178.0" width="18.2" height="18.2" fill="#000" stroke="none"/>
<rect x="1179.2" y="2179.4" width="18.2" height="18.2" fill="#000" stroke="none"/>
<rect x="1202.9" y="2174.6" width="18.2" height="18.2" fill="#000" stroke="none"/>
<rect x="1179.2" y="2294.1" width="18.2" height="18.2" fill="#000" stroke="none"/>
<rect x="1291.0" y="2175.2" width="18.2" height="18.2" fill="#000" stroke="none"/>
<rect x="1277.7" y="2195.9" width="18.2" height="18.2" fill="#000" stroke="none"/>
<rect x="1304.7" y="2205.9" width="18.2" height="18.2" fill="#000" stroke="none"/>
<rect x="1291.0" y="2257.1" width="18.2" height="18.2" fill="#000" stroke="none"/>
<rect x="1403.8" y="2035.7" width="18.2" height="18.2" fill="#000" stroke="none"/>
<rect x="1403.8" y="2082.1" width="18.2" height="18.2" fill="#000" stroke="none"/>
<rect x="1390.4" y="2180.3" width="18.2" height="18.2" fill="#000" stroke="none"/>
<rect x="1417.1" y="2196.2" width="18.2" height="18.2" fill="#000" stroke="none"/>
<rect x="1403.4" y="2254.3" width="18.2" height="18.2" fill="#000" stroke="none"/>
<rect x="1515.6" y="1991.6" width="18.2" height="18.2" fill="#000" stroke="none"/>
<rect x="1515.6" y="2076.4" width="18.2" height="18.2" fill="#000" stroke="none"/>
<rect x="1515.6" y="2131.9" width="18.2" height="18.2" fill="#000" stroke="none"/>
<rect x="1515.7" y="2233.6" width="18.2" height="18.2" fill="#000" stroke="none"/>
<rect x="1515.7" y="2307.3" width="18.2" height="18.2" fill="#000" stroke="none"/>
<rect x="1600.9" y="2045.7" width="18.2" height="18.2" fill="#000" stroke="none"/>
<rect x="1641.3" y="2038.0" width="18.2" height="18.2" fill="#000" stroke="none"/>
<rect x="1614.3" y="2071.3" width="18.2" height="18.2" fill="#000" stroke="none"/>
<rect x="1641.3" y="2078.4" width="18.2" height="18.2" fill="#000" stroke="none"/>
<rect x="1627.7" y="2151.0" width="18.2" height="18.2" fill="#000" stroke="none"/>
<rect x="1740.3" y="1931.0" width="18.2" height="18.2" fill="#000" stroke="none"/>
<rect x="1740.3" y="2050.8" width="18.2" height="18.2" fill="#000" stroke="none"/>
<rect x="1716.1" y="2081.3" width="18.2" height="18.2" fill="#000" stroke="none"/>
<rect x="1764.5" y="2085.5" width="18.2" height="18.2" fill="#000" stroke="none"/>
<rect x="1740.3" y="2093.5" width="18.2" height="18.2" fill="#000" stroke="none"/>
<line x1="1038.7" y1="2236.6" x2="1113.3" y2="2236.6" stroke-width="4.5"/>
<line x1="1076.0" y1="2231.8" x2="1076.0" y2="2244.8" stroke-width="6.5"/>
<line x1="1057.6" y1="2231.8" x2="1094.4" y2="2231.8" stroke-width="6"/>
<line x1="1057.6" y1="2244.8" x2="1094.4" y2="2244.8" stroke-width="6"/>
<line x1="1150.5" y1="2192.2" x2="1225.1" y2="2192.2" stroke-width="4.5"/>
<line x1="1187.8" y1="2161.0" x2="1187.8" y2="2225.0" stroke-width="6.5"/>
<line x1="1169.4" y1="2161.0" x2="1206.2" y2="2161.0" stroke-width="6"/>
<line x1="1169.4" y1="2225.0" x2="1206.2" y2="2225.0" stroke-width="6"/>
<line x1="1262.8" y1="2217.9" x2="1337.4" y2="2217.9" stroke-width="4.5"/>
<line x1="1300.1" y1="2200.2" x2="1300.1" y2="2236.3" stroke-width="6.5"/>
<line x1="1281.7" y1="2200.2" x2="1318.5" y2="2200.2" stroke-width="6"/>
<line x1="1281.7" y1="2236.3" x2="1318.5" y2="2236.3" stroke-width="6"/>
<line x1="1375.3" y1="2158.6" x2="1449.9" y2="2158.6" stroke-width="4.5"/>
<line x1="1412.6" y1="2118.8" x2="1412.6" y2="2197.9" stroke-width="6.5"/>
<line x1="1394.2" y1="2118.8" x2="1431.0" y2="2118.8" stroke-width="6"/>
<line x1="1394.2" y1="2197.9" x2="1431.0" y2="2197.9" stroke-width="6"/>
<line x1="1487.5" y1="2156.4" x2="1562.1" y2="2156.4" stroke-width="4.5"/>
<line x1="1524.8" y1="2100.9" x2="1524.8" y2="2212.1" stroke-width="6.5"/>
<line x1="1506.4" y1="2100.9" x2="1543.2" y2="2100.9" stroke-width="6"/>
<line x1="1506.4" y1="2212.1" x2="1543.2" y2="2212.1" stroke-width="6"/>
<line x1="1599.9" y1="2086.9" x2="1674.5" y2="2086.9" stroke-width="4.5"/>
<line x1="1637.2" y1="2066.2" x2="1637.2" y2="2106.0" stroke-width="6.5"/>
<line x1="1618.8" y1="2066.2" x2="1655.6" y2="2066.2" stroke-width="6"/>
<line x1="1618.8" y1="2106.0" x2="1655.6" y2="2106.0" stroke-width="6"/>
<line x1="1712.2" y1="2058.5" x2="1786.8" y2="2058.5" stroke-width="4.5"/>
<line x1="1749.5" y1="2027.8" x2="1749.5" y2="2087.5" stroke-width="6.5"/>
<line x1="1731.1" y1="2027.8" x2="1767.9" y2="2027.8" stroke-width="6"/>
<line x1="1731.1" y1="2087.5" x2="1767.9" y2="2087.5" stroke-width="6"/>
<text x="1206.5" y="1836.2" font-size="44.02" xml:space="preserve">ISP Dose Response</text>
<text x="1308.7" y="1922.7" font-size="38.6" textLength="221.2" lengthAdjust="spacingAndGlyphs" style="font-weight:700;font-family:'Noto Sans CJK SC','Noto Sans CJK JP','DejaVu Sans',sans-serif;" xml:space="preserve">N=5/Group</text>
<text x="1622.2" y="2006.6" font-size="68" style="font-weight:700;font-family:'Noto Sans CJK SC','Noto Sans CJK JP','DejaVu Sans',sans-serif;" xml:space="preserve">*</text>
<text x="1711.9" y="1926.9" font-size="68" style="font-weight:700;font-family:'Noto Sans CJK SC','Noto Sans CJK JP','DejaVu Sans',sans-serif;" xml:space="preserve">**</text>
<text x="1296.2" y="2471.6" font-size="43.5" textLength="247.1" lengthAdjust="spacingAndGlyphs" xml:space="preserve">g/day of ISP</text>
<text x="1266.5" y="2471.6" font-size="43.69" style="font-weight:normal;font-family:'Liberation Serif','DejaVu Serif',serif;" stroke="#000" stroke-width="1.31" xml:space="preserve">µ</text>
<text x="935.1" y="2222.0" font-size="37.53" transform="rotate(-90 935.1 2222.0)" xml:space="preserve">Voids per hour</text>
</svg></body></html>
